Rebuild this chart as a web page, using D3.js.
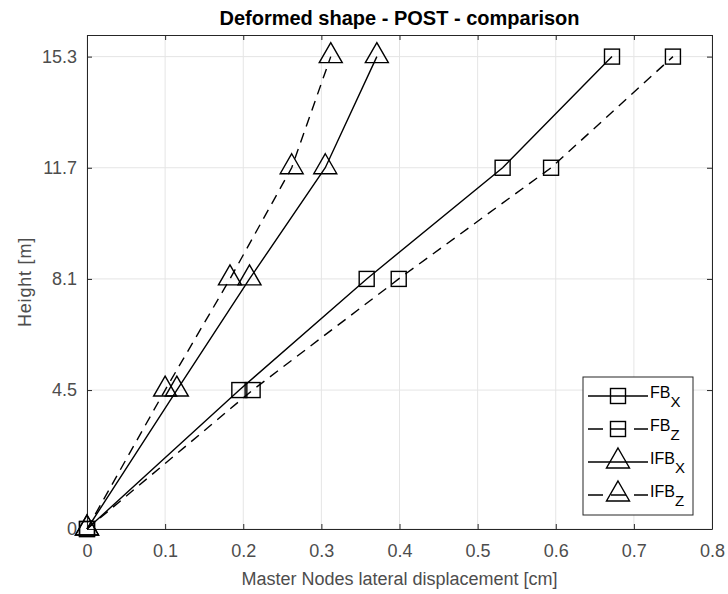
<!DOCTYPE html>
<html>
<head>
<meta charset="utf-8">
<script src="https://cdn.jsdelivr.net/npm/d3@7/dist/d3.min.js"></script>
<style>
  html, body { margin: 0; padding: 0; background: #fff; }
  svg { display: block; font-family: "Liberation Sans", Arial, sans-serif; }
</style>
</head>
<body>
<svg id="chart" width="728" height="594"></svg>
<script>
// Storey heights [m] and lateral displacements of the master nodes [cm]
const heights = [0, 4.5, 8.1, 11.7, 15.3];
const fbX  = [0, 0.195, 0.358, 0.532, 0.672];
const fbZ  = [0, 0.212, 0.399, 0.594, 0.750];
const ifbX = [0, 0.115, 0.208, 0.305, 0.371];
const ifbZ = [0, 0.100, 0.183, 0.262, 0.312];

const xTicks = [0, 0.1, 0.2, 0.3, 0.4, 0.5, 0.6, 0.7, 0.8];
const yTicks = [0, 4.5, 8.1, 11.7, 15.3];

const seriesList = [
  { name: "FB",  sub: "X", values: fbX,  dashed: false, marker: "square" },
  { name: "FB",  sub: "Z", values: fbZ,  dashed: true,  marker: "square" },
  { name: "IFB", sub: "X", values: ifbX, dashed: false, marker: "triangle" },
  { name: "IFB", sub: "Z", values: ifbZ, dashed: true,  marker: "triangle" }
];

const svg = d3.select("#chart");
const margin = { left: 87, right: 16, top: 35, bottom: 65 };
const W = 728, H = 594;
const x = d3.scaleLinear().domain([0, 0.8]).range([margin.left, W - margin.right]);
const y = d3.scaleLinear().domain([0, 16]).range([H - margin.bottom, margin.top]);

const axisColor = "#262626";
const tickTextColor = "#4d4d4d";

// grid
const grid = svg.append("g");
grid.selectAll("line.gx").data(xTicks).join("line")
  .attr("x1", d => x(d)).attr("x2", d => x(d))
  .attr("y1", y.range()[0]).attr("y2", y.range()[1])
  .attr("stroke", "#e5e5e5").attr("stroke-width", 1);
grid.selectAll("line.gy").data(yTicks).join("line")
  .attr("y1", d => y(d)).attr("y2", d => y(d))
  .attr("x1", x.range()[0]).attr("x2", x.range()[1])
  .attr("stroke", "#e5e5e5").attr("stroke-width", 1);

// axes with inward ticks on all four sides
const fmt = d => d === 0 ? "0" : String(d);
const axBottom = svg.append("g").attr("transform", `translate(0,${y(0)})`)
  .call(d3.axisBottom(x).tickValues(xTicks).tickFormat(fmt).tickSizeInner(-5).tickSizeOuter(0).tickPadding(15));
const axLeft = svg.append("g").attr("transform", `translate(${x(0)},0)`)
  .call(d3.axisLeft(y).tickValues(yTicks).tickFormat(fmt).tickSizeInner(-5).tickSizeOuter(0).tickPadding(10));
const axTop = svg.append("g").attr("transform", `translate(0,${y(16)})`)
  .call(d3.axisTop(x).tickValues(xTicks).tickFormat("").tickSizeInner(-5).tickSizeOuter(0));
const axRight = svg.append("g").attr("transform", `translate(${x(0.8)},0)`)
  .call(d3.axisRight(y).tickValues(yTicks).tickFormat("").tickSizeInner(-5).tickSizeOuter(0));

[axBottom, axLeft, axTop, axRight].forEach(g => {
  g.attr("font-size", 18).attr("font-family", "Liberation Sans, Arial, sans-serif");
  g.select(".domain").attr("stroke", axisColor).attr("stroke-width", 1);
  g.selectAll(".tick line").attr("stroke", axisColor);
  g.selectAll(".tick text").attr("fill", tickTextColor);
});

// title and axis labels
svg.append("text").attr("x", (x(0) + x(0.8)) / 2).attr("y", 25)
  .attr("text-anchor", "middle").attr("font-size", 20).attr("font-weight", "bold")
  .attr("fill", "#000").text("Deformed shape - POST - comparison");
svg.append("text").attr("x", (x(0) + x(0.8)) / 2).attr("y", 585)
  .attr("text-anchor", "middle").attr("font-size", 18).attr("fill", tickTextColor)
  .text("Master Nodes lateral displacement [cm]");
svg.append("text").attr("transform", `translate(31,${(y(0) + y(16)) / 2}) rotate(-90)`)
  .attr("text-anchor", "middle").attr("font-size", 18).attr("letter-spacing", 0.8)
  .attr("fill", tickTextColor).text("Height [m]");

// markers: open square and upward triangle (point sits low inside the triangle)
function drawMarker(g, type, cx, cy) {
  if (type === "square") {
    g.append("rect").attr("x", cx - 7.5).attr("y", cy - 7.5).attr("width", 15).attr("height", 15)
      .attr("fill", "none").attr("stroke", "#000").attr("stroke-width", 1.4);
  } else {
    const w = 23;
    g.append("path")
      .attr("d", `M${cx},${cy - 14}L${cx + w / 2},${cy + 6}L${cx - w / 2},${cy + 6}Z`)
      .attr("fill", "none").attr("stroke", "#000").attr("stroke-width", 1.4)
      .attr("stroke-linejoin", "miter");
  }
}

const line = d3.line().x(d => x(d[0])).y(d => y(d[1]));
const plot = svg.append("g");
seriesList.forEach(s => {
  const pts = s.values.map((v, i) => [v, heights[i]]);
  plot.append("path").datum(pts).attr("d", line)
    .attr("fill", "none").attr("stroke", "#000").attr("stroke-width", 1.4)
    .attr("stroke-dasharray", s.dashed ? "10,7" : null);
  const mg = plot.append("g");
  pts.forEach(p => drawMarker(mg, s.marker, x(p[0]), y(p[1])));
});

// legend
const lg = svg.append("g");
const lgX = 583, lgY = 377, lgW = 110, lgH = 138;
lg.append("rect").attr("x", lgX).attr("y", lgY).attr("width", lgW).attr("height", lgH)
  .attr("fill", "#fff").attr("stroke", axisColor).attr("stroke-width", 1);
seriesList.forEach((s, i) => {
  const ly = lgY + 19 + i * 33;
  lg.append("line").attr("x1", lgX + 5).attr("x2", lgX + 65).attr("y1", ly).attr("y2", ly)
    .attr("stroke", "#000").attr("stroke-width", 1.4)
    .attr("stroke-dasharray", s.dashed ? "15,8" : null);
  drawMarker(lg, s.marker, lgX + 35, ly);
  const t = lg.append("text").attr("x", lgX + 67).attr("y", ly + 2)
    .attr("font-size", 16).attr("fill", "#000");
  t.append("tspan").text(s.name);
  t.append("tspan").attr("dy", 9).attr("font-size", 15).text(s.sub);
});
</script>
</body>
</html>
